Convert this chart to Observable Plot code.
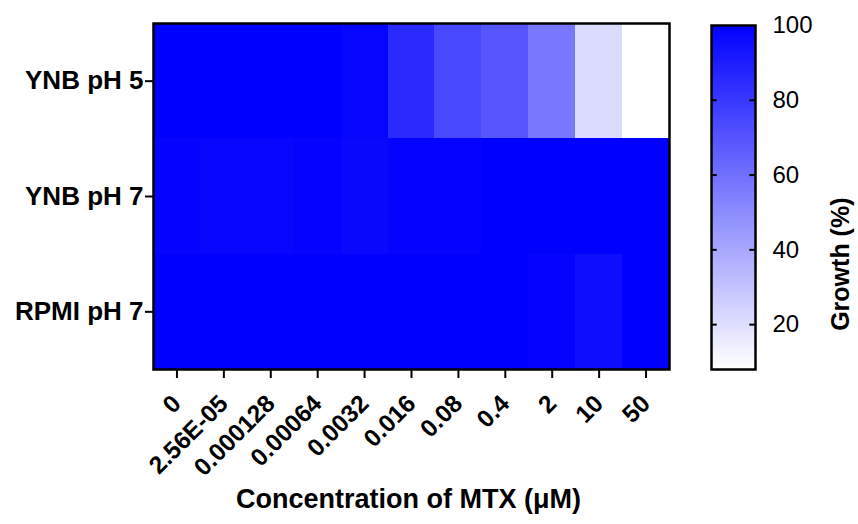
<!DOCTYPE html>
<html>
<head>
<meta charset="utf-8">
<script src="https://cdn.jsdelivr.net/npm/d3@7"></script>
<script src="https://cdn.jsdelivr.net/npm/@observablehq/plot@0.6"></script>
<style>
  html, body { margin: 0; padding: 0; background: #fff; }
  #wrap { position: relative; width: 858px; height: 524px; }
  #wrap svg { position: absolute; top: 0; }
</style>
</head>
<body>
<div id="wrap"></div>
<script>
// ---- data ----
const concentrations = ["0", "2.56E-05", "0.000128", "0.00064", "0.0032", "0.016", "0.08", "0.4", "2", "10", "50"];
const media = ["YNB pH 5", "YNB pH 7", "RPMI pH 7"];
const growthYNB5 = [100, 100, 100, 100, 98, 85, 74, 69, 57, 21, 8];
const growthYNB7 = [99, 98, 98, 99, 97, 99, 99, 100, 100, 100, 100];
const growthRPMI7 = [100, 100, 100, 100, 100, 100, 100, 100, 99, 95, 100];
const colorTicks = [20, 40, 60, 80, 100];
const colorDomain = [8, 100];

const series = [growthYNB5, growthYNB7, growthRPMI7];
const table = [];
media.forEach((m, i) => concentrations.forEach((c, j) => table.push({medium: m, conc: c, growth: series[i][j]})));

const FONT = "'Liberation Sans', Arial, Helvetica, sans-serif";
const colorScale = {type: "linear", domain: colorDomain, range: ["#ffffff", "#0000ff"], interpolate: "rgb", clamp: true};

const main = Plot.plot({
  width: 858,
  height: 524,
  marginLeft: 153,
  marginRight: 189,
  marginTop: 23,
  marginBottom: 155,
  style: {fontFamily: FONT, background: "transparent", color: "#000"},
  x: {domain: concentrations, padding: 0, round: false},
  y: {domain: media, padding: 0, round: false},
  color: colorScale,
  marks: [
    Plot.cell(table, {x: "conc", y: "medium", fill: "growth", inset: 0, shapeRendering: "crispEdges"}),
    Plot.frame({stroke: "#000", strokeWidth: 2.5}),
    Plot.axisX({tickRotate: -45, tickSize: 9, tickPadding: 21, strokeWidth: 2, fontSize: 24.5, fontWeight: "bold", label: null}),
    Plot.axisY({tickSize: 8, tickPadding: 2, strokeWidth: 2, fontSize: 26, fontWeight: "bold", label: null}),
    Plot.text(["Concentration of MTX (\u03bcM)"], {frameAnchor: "bottom", dx: -3, dy: 138, fontSize: 27, fontWeight: "bold", fill: "#000"})
  ]
});
main.style.left = "0px";

const ramp = d3.range(colorDomain[0], colorDomain[1], 0.5);
const bar = Plot.plot({
  width: 158,
  height: 524,
  marginLeft: 11,
  marginRight: 103,
  marginTop: 25,
  marginBottom: 155,
  style: {fontFamily: FONT, background: "transparent", color: "#000", overflow: "visible"},
  x: {domain: [0, 1], axis: null},
  y: {domain: colorDomain},
  color: colorScale,
  marks: [
    Plot.rect(ramp, {x1: 0, x2: 1, y1: d => d, y2: d => Math.min(d + 0.7, colorDomain[1]), fill: d => d, shapeRendering: "crispEdges"}),
    Plot.ruleY(colorTicks.filter(t => t < 100), {x1: 0, x2: 0.13, stroke: "#000", strokeWidth: 2}),
    Plot.ruleY(colorTicks.filter(t => t < 100), {x1: 0.87, x2: 1, stroke: "#000", strokeWidth: 2}),
    Plot.frame({stroke: "#000", strokeWidth: 2.5}),
    Plot.axisY({anchor: "right", ticks: colorTicks, tickSize: 0, tickPadding: 17, fontSize: 24, label: null}),
    Plot.text(["Growth (%)"], {frameAnchor: "right", rotate: -90, dx: 85, fontSize: 25, fontWeight: "bold", fill: "#000"})
  ]
});
bar.style.left = "700px";

const wrap = document.getElementById("wrap");
wrap.appendChild(main);
wrap.appendChild(bar);
</script>
</body>
</html>
